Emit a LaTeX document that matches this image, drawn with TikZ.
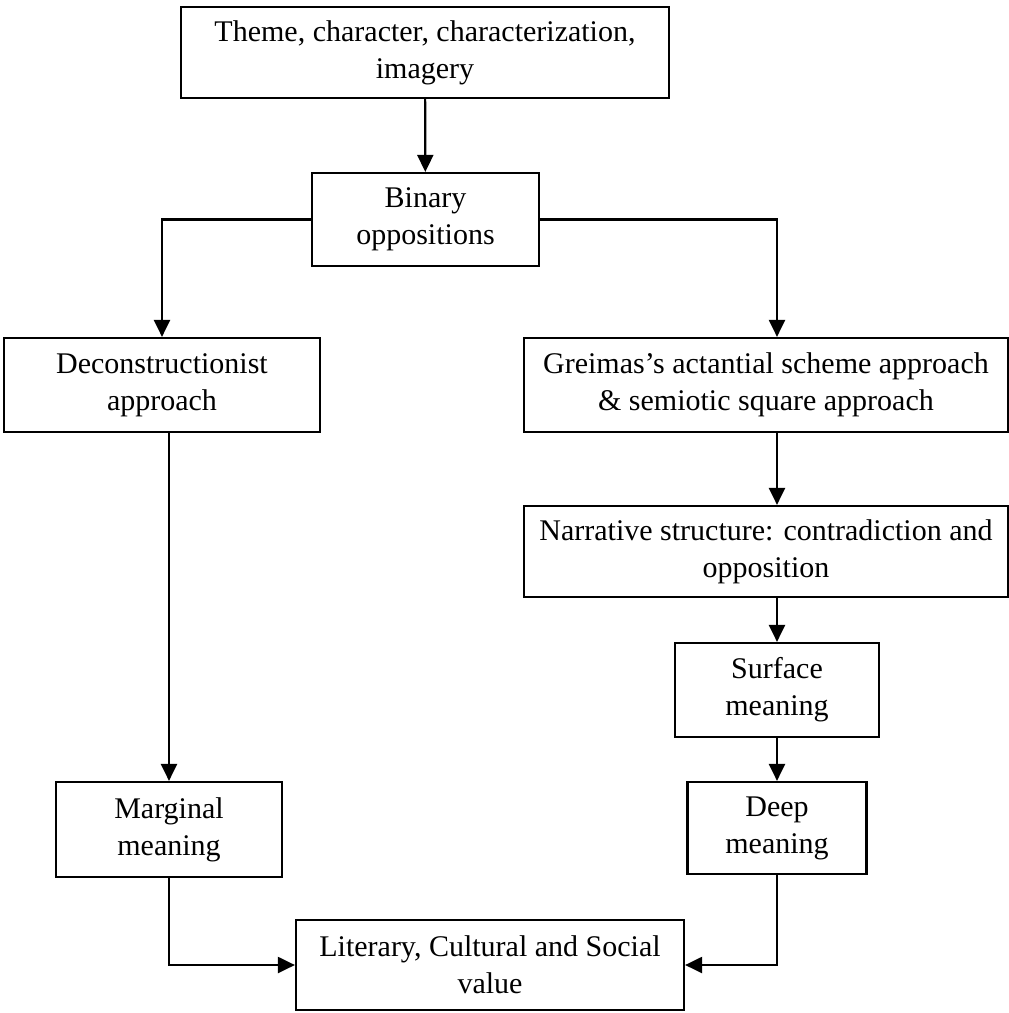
\documentclass[tikz,border=0pt]{standalone}
\usepackage{fontspec}
\setmainfont{Liberation Serif}
\usetikzlibrary{arrows.meta}
\begin{document}
\begin{tikzpicture}[x=1pt,y=-1pt,
  box/.style={draw=black,line width=2.2pt,align=center,inner sep=0pt,
    font=\fontsize{30}{37}\selectfont},
  conn/.style={line width=2.2pt,-{Triangle[length=17pt,width=16pt]}}]
\useasboundingbox[fill=white] (0,0) rectangle (1009,1013);
\node[box,minimum width=488pt,minimum height=91pt] (top) at (425,52.5)
  {Theme, character, characterization,\\imagery};
\node[box,minimum width=227pt,minimum height=93pt] (bin) at (425.5,219.5)
  {Binary\\oppositions};
\node[box,minimum width=316pt,minimum height=94pt] (dec) at (162,385)
  {Deconstructionist\\approach};
\node[box,minimum width=484pt,minimum height=94pt] (gre) at (766,385)
  {Greimas’s actantial scheme approach\\\& semiotic square approach};
\node[box,minimum width=484pt,minimum height=91pt] (nar) at (766,551.5)
  {Narrative structure: contradiction and\\opposition};
\node[box,minimum width=204pt,minimum height=94pt] (sur) at (777,690)
  {Surface\\meaning};
\node[box,minimum width=179pt,minimum height=92pt] (dee) at (777,828)
  {Deep\\meaning};
\node[box,minimum width=226pt,minimum height=95pt] (mar) at (169,829.5)
  {Marginal\\meaning};
\node[box,minimum width=388pt,minimum height=90pt] (lit) at (490,965)
  {Literary, Cultural and Social\\value};
\coordinate (rc) at (777,0);
\coordinate (lc) at (169,0);
\draw[conn] (top) -- (bin);
\draw[conn] (bin.west) -| (dec.north);
\draw[conn] (bin.east) -| (rc |- gre.north);
\draw[conn] (rc |- gre.south) -- (rc |- nar.north);
\draw[conn] (sur.north |- nar.south) -- (sur.north);
\draw[conn] (sur) -- (dee);
\draw[conn] (lc |- dec.south) -- (mar.north);
\draw[conn] (mar.south) |- (lit.west);
\draw[conn] (dee.south) |- (lit.east);
\end{tikzpicture}
\end{document}
